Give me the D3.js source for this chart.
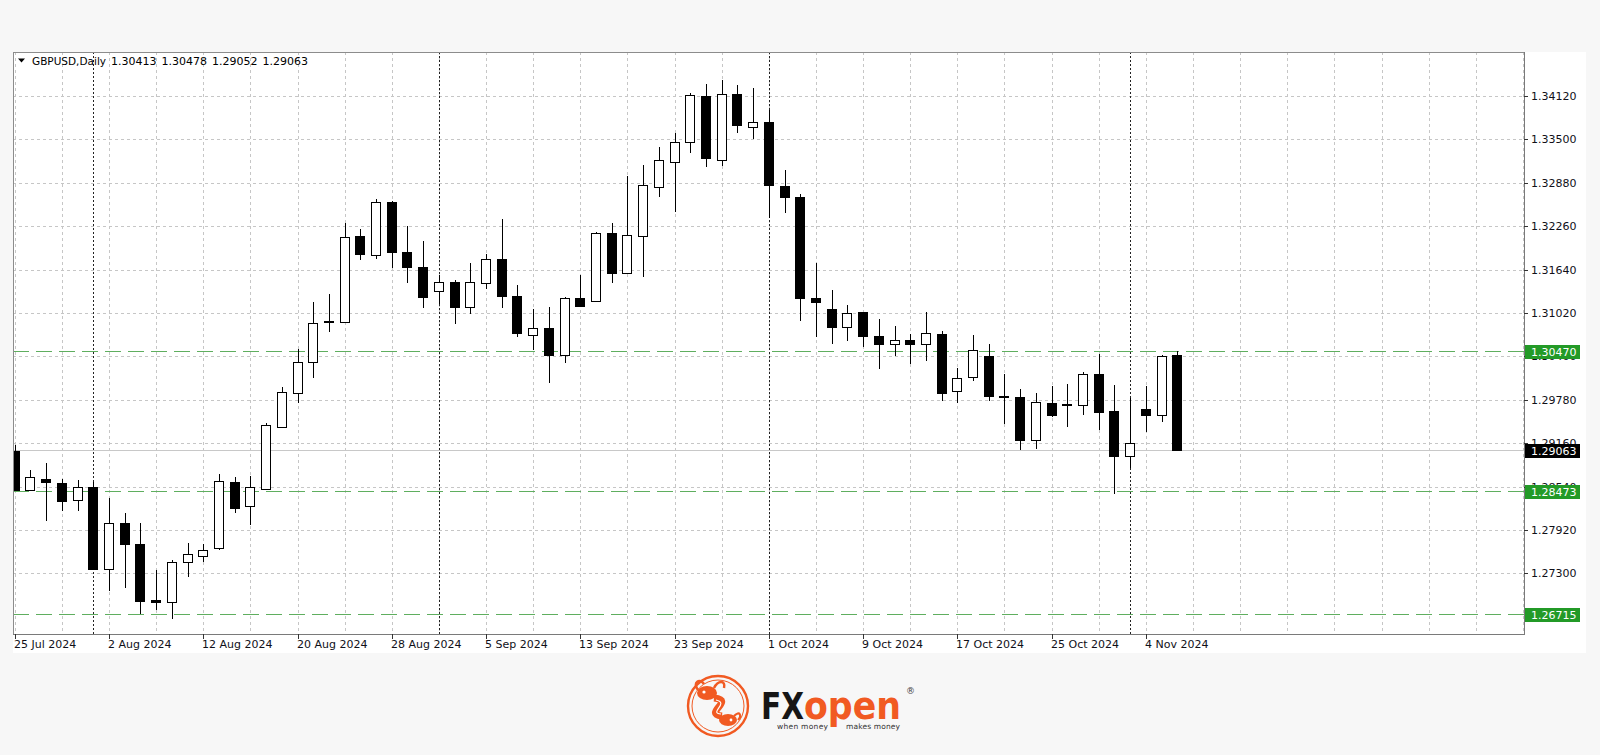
<!DOCTYPE html>
<html><head><meta charset="utf-8">
<script src="https://cdn.jsdelivr.net/npm/d3@7"></script>
<style>html,body{margin:0;padding:0;background:#f7f7f7;} svg{display:block;}</style>
</head><body>
<svg id="chart" width="1600" height="755"></svg>
<script>
// ---------------- DATA ----------------
const dates = ["2024-07-25","2024-07-26","2024-07-29","2024-07-30","2024-07-31","2024-08-01","2024-08-02","2024-08-05","2024-08-06","2024-08-07",
"2024-08-08","2024-08-09","2024-08-12","2024-08-13","2024-08-14","2024-08-15","2024-08-16","2024-08-19","2024-08-20","2024-08-21",
"2024-08-22","2024-08-23","2024-08-26","2024-08-27","2024-08-28","2024-08-29","2024-08-30","2024-09-02","2024-09-03","2024-09-04",
"2024-09-05","2024-09-06","2024-09-09","2024-09-10","2024-09-11","2024-09-12","2024-09-13","2024-09-16","2024-09-17","2024-09-18",
"2024-09-19","2024-09-20","2024-09-23","2024-09-24","2024-09-25","2024-09-26","2024-09-27","2024-09-30","2024-10-01","2024-10-02",
"2024-10-03","2024-10-04","2024-10-07","2024-10-08","2024-10-09","2024-10-10","2024-10-11","2024-10-14","2024-10-15","2024-10-16",
"2024-10-17","2024-10-18","2024-10-21","2024-10-22","2024-10-23","2024-10-24","2024-10-25","2024-10-28","2024-10-29","2024-10-30",
"2024-10-31","2024-11-01","2024-11-04","2024-11-05","2024-11-06"];

const openP = [1.29053,1.28491,1.28644,1.28596,1.28349,1.28530,1.27367,1.28016,1.27720,1.26913,
1.26891,1.27467,1.27549,1.27663,1.28610,1.28267,1.28506,1.29396,1.29873,1.30324,
1.30906,1.30896,1.32120,1.31849,1.32610,1.31896,1.31673,1.31334,1.31459,1.31110,
1.31444,1.31787,1.31267,1.30710,1.30801,1.30420,1.31230,1.31196,1.32159,1.31587,
1.32120,1.32824,1.33173,1.33459,1.34120,1.33206,1.34144,1.33681,1.33744,1.32834,
1.32681,1.31239,1.31073,1.30824,1.31030,1.30691,1.30573,1.30634,1.30581,1.30716,
1.29910,1.30101,1.30406,1.29830,1.29824,1.29206,1.29739,1.29713,1.29706,1.30144,
1.29620,1.28980,1.29649,1.29563,1.30413];

const highP = [1.29134,1.28777,1.28881,1.28644,1.28634,1.28601,1.28381,1.28159,1.28016,1.27349,
1.27491,1.27730,1.27720,1.28720,1.28681,1.28696,1.29444,1.29967,1.30501,1.31181,
1.31287,1.32301,1.32220,1.32649,1.32620,1.32263,1.32049,1.31563,1.31491,1.31739,
1.31859,1.32363,1.31420,1.31073,1.31110,1.31253,1.31563,1.32173,1.32301,1.32977,
1.33134,1.33396,1.33587,1.34159,1.34291,1.34349,1.34277,1.34239,1.33920,1.33063,
1.32720,1.31739,1.31349,1.31134,1.31031,1.30930,1.30834,1.30720,1.31030,1.30763,
1.30230,1.30706,1.30577,1.30144,1.29934,1.29881,1.29977,1.29999,1.30173,1.30430,
1.29991,1.29801,1.29977,1.30420,1.30478];

const lowP = [1.28477,1.28480,1.28053,1.28191,1.28191,1.27349,1.27053,1.27087,1.26720,1.26777,
1.26649,1.27253,1.27463,1.27634,1.28167,1.27991,1.28491,1.29387,1.29730,1.30087,
1.30744,1.30887,1.31777,1.31791,1.31667,1.31444,1.31087,1.31149,1.30859,1.31001,
1.31359,1.31087,1.30673,1.30491,1.30016,1.30310,1.31120,1.31191,1.31453,1.31577,
1.31530,1.32673,1.32459,1.33301,1.33110,1.33124,1.33596,1.33500,1.32373,1.32453,
1.30910,1.30681,1.30577,1.30624,1.30539,1.30220,1.30406,1.30291,1.30339,1.29760,
1.29739,1.30053,1.29760,1.29430,1.29063,1.29077,1.29539,1.29396,1.29563,1.29349,
1.28434,1.28801,1.29324,1.29467,1.29052];

const closeP = [1.28491,1.28673,1.28606,1.28339,1.28539,1.27359,1.28016,1.27720,1.26901,1.26884,
1.27467,1.27573,1.27634,1.28624,1.28239,1.28530,1.29420,1.29887,1.30316,1.30873,
1.30887,1.32101,1.31859,1.32610,1.31896,1.31681,1.31253,1.31459,1.31110,1.31459,
1.31787,1.31263,1.30730,1.30801,1.30420,1.31230,1.31124,1.32159,1.31596,1.32134,
1.32844,1.33206,1.33459,1.34134,1.33230,1.34144,1.33706,1.33744,1.32849,1.32673,
1.31230,1.31177,1.30824,1.31016,1.30691,1.30577,1.30634,1.30581,1.30730,1.29881,
1.30087,1.30487,1.29830,1.29816,1.29206,1.29753,1.29559,1.29699,1.30144,1.29606,
1.28980,1.29159,1.29563,1.30406,1.29063];

const priceTicks = [1.34120,1.33500,1.32880,1.32260,1.31640,1.31020,1.30400,1.29780,1.29160,1.28540,1.27920,1.27300];
const levelLines = [1.30470,1.28473,1.26715];
const lastPrice = 1.29063;
const dateLabelIdx = [0,6,12,18,24,30,36,42,48,54,60,66,72];
const symbolTitle = "GBPUSD,Daily";

// ---------------- LAYOUT ----------------
const svg = d3.select("#chart");
const plot = {left:13, top:52, right:1524, bottom:634};
const panel = {left:13, top:52, right:1586, bottom:653};
const font = "'DejaVu Sans', Verdana, sans-serif";

const x = d3.scaleLinear().domain([0,74]).range([14.75, 14.75 + 74*15.71]);
const y = d3.scaleLinear().domain([1.27300,1.34120]).range([573.3,96]);
const parse = d3.timeParse("%Y-%m-%d");
const fmtDate = d3.timeFormat("%-d %b %Y");
const fmtP = d => d.toFixed(5);
const snap = v => Math.round(v) + 0.5;

// white panel
svg.append("rect").attr("x",panel.left).attr("y",panel.top)
  .attr("width",panel.right-panel.left).attr("height",panel.bottom-panel.top).attr("fill","#ffffff");

svg.append("clipPath").attr("id","pc").append("rect")
  .attr("x",plot.left+1).attr("y",plot.top+1)
  .attr("width",plot.right-plot.left-1).attr("height",plot.bottom-plot.top-1);
const g = svg.append("g").attr("clip-path","url(#pc)");

// horizontal grid
g.selectAll("line.hg").data(priceTicks).join("line")
  .attr("x1",plot.left).attr("x2",plot.right)
  .attr("y1",d=>snap(y(d))).attr("y2",d=>snap(y(d)))
  .attr("stroke","#c6c6c6").attr("stroke-dasharray","3,3");

// vertical grid every 3 bars
const maxIdx = Math.floor(x.invert(plot.right));
g.selectAll("line.vg").data(d3.range(0, maxIdx+1, 3)).join("line")
  .attr("x1",d=>snap(x(d))).attr("x2",d=>snap(x(d)))
  .attr("y1",plot.top).attr("y2",plot.bottom)
  .attr("stroke","#c6c6c6").attr("stroke-dasharray","3,3");

// month separators
const sepIdx = dates.map((d,i)=>i).filter(i=> i>0 && dates[i].slice(5,7)!==dates[i-1].slice(5,7));
g.selectAll("line.sep").data(sepIdx).join("line")
  .attr("x1",d=>snap(x(d))).attr("x2",d=>snap(x(d)))
  .attr("y1",plot.top).attr("y2",plot.bottom)
  .attr("stroke","#222").attr("stroke-dasharray","2,2");

// bid line
g.append("line").attr("x1",plot.left).attr("x2",plot.right)
  .attr("y1",snap(y(lastPrice))).attr("y2",snap(y(lastPrice)))
  .attr("stroke","#c8c8c8").attr("stroke-width",1.2);

// level lines
g.selectAll("line.lvl").data(levelLines).join("line")
  .attr("x1",plot.left).attr("x2",plot.right)
  .attr("y1",d=>snap(y(d))).attr("y2",d=>snap(y(d)))
  .attr("stroke","#5fae5f").attr("stroke-dasharray","16,7");

// candles
const idx = d3.range(dates.length);
const cg = g.append("g");
cg.selectAll("line.wick").data(idx).join("line")
  .attr("x1",i=>Math.round(x(i))+0.5).attr("x2",i=>Math.round(x(i))+0.5)
  .attr("y1",i=>Math.round(y(highP[i]))).attr("y2",i=>Math.round(y(lowP[i])))
  .attr("stroke","#000").attr("stroke-width",1);
cg.selectAll("rect.body").data(idx).join("rect")
  .attr("x",i=>Math.round(x(i))-4.5)
  .attr("y",i=>Math.round(y(Math.max(openP[i],closeP[i])))+0.5)
  .attr("width",9)
  .attr("height",i=>Math.max(1, Math.round(y(Math.min(openP[i],closeP[i]))) - Math.round(y(Math.max(openP[i],closeP[i])))))
  .attr("fill",i=> closeP[i] > openP[i] ? "#ffffff" : "#000000")
  .attr("stroke","#000").attr("stroke-width",1);

// plot border / axes lines
svg.append("line").attr("x1",plot.left+0.5).attr("x2",plot.left+0.5).attr("y1",plot.top).attr("y2",plot.bottom).attr("stroke","#8c8c8c");
svg.append("line").attr("x1",plot.left).attr("x2",plot.right).attr("y1",plot.top+0.5).attr("y2",plot.top+0.5).attr("stroke","#8c8c8c");
svg.append("line").attr("x1",plot.right+0.5).attr("x2",plot.right+0.5).attr("y1",plot.top).attr("y2",plot.bottom+1).attr("stroke","#7a7a7a");
svg.append("line").attr("x1",plot.left).attr("x2",plot.right+1).attr("y1",plot.bottom+0.5).attr("y2",plot.bottom+0.5).attr("stroke","#7a7a7a");

// price axis
const ya = svg.append("g");
ya.selectAll("line.yt").data(priceTicks).join("line")
  .attr("x1",plot.right).attr("x2",plot.right+4)
  .attr("y1",d=>snap(y(d))).attr("y2",d=>snap(y(d))).attr("stroke","#333");
ya.selectAll("text.yl").data(priceTicks).join("text")
  .attr("x",1531).attr("y",d=>y(d)+4)
  .attr("font-family",font).attr("font-size",11).attr("fill","#101018")
  .text(fmtP);

// level labels (drawn on top of the tick labels, as in the terminal)
const lv = svg.append("g");
lv.selectAll("rect").data(levelLines).join("rect")
  .attr("x",1525).attr("y",d=>Math.round(y(d))-6).attr("width",55).attr("height",14)
  .attr("fill","#239a27");
lv.selectAll("text").data(levelLines).join("text")
  .attr("x",1531).attr("y",d=>Math.round(y(d))+5)
  .attr("font-family",font).attr("font-size",11).attr("fill","#ffffff").text(fmtP);
svg.append("rect").attr("x",1525).attr("y",Math.round(y(lastPrice))-6).attr("width",55).attr("height",14).attr("fill","#000");
svg.append("text").attr("x",1531).attr("y",Math.round(y(lastPrice))+5)
  .attr("font-family",font).attr("font-size",11).attr("fill","#ffffff").text(fmtP(lastPrice));

// date axis
const xa = svg.append("g");
xa.selectAll("line.xt").data(dateLabelIdx).join("line")
  .attr("x1",i=>snap(x(i))).attr("x2",i=>snap(x(i)))
  .attr("y1",plot.bottom).attr("y2",plot.bottom+5).attr("stroke","#333");
xa.selectAll("text.xl").data(dateLabelIdx).join("text")
  .attr("x",i=>Math.round(x(i))-1).attr("y",648)
  .attr("font-family",font).attr("font-size",11).attr("fill","#101018")
  .text(i=>fmtDate(parse(dates[i])));

// header
const last = dates.length-1;
svg.append("path").attr("d","M18,58.5 L25,58.5 L21.5,62.5 Z").attr("fill","#000");
svg.append("text").attr("x",32).attr("y",65).attr("font-family",font).attr("font-size",10.5).attr("fill","#000")
  .text(symbolTitle);
svg.append("text").attr("x",111).attr("y",65).attr("font-family",font).attr("font-size",11).attr("fill","#000")
  .attr("word-spacing",1.5)
  .text([openP[last],highP[last],lowP[last],closeP[last]].map(fmtP).join(" "));

// ---------------- LOGO ----------------
const orange = "#f15a22";
const lg = svg.append("g");
const cx = 718, cy = 706;
lg.append("circle").attr("cx",cx).attr("cy",cy).attr("r",30).attr("fill","none").attr("stroke",orange).attr("stroke-width",2.4);
lg.append("circle").attr("cx",cx).attr("cy",cy).attr("r",26).attr("fill","none").attr("stroke",orange).attr("stroke-width",1);
// upper bull head
lg.append("ellipse").attr("cx",cx-11).attr("cy",cy-13).attr("rx",10).attr("ry",7).attr("fill",orange);
lg.append("path").attr("d",`M${cx-20},${cy-16} C${cx-26},${cy-24} ${cx-18},${cy-28} ${cx-14},${cy-22}`).attr("fill","none").attr("stroke",orange).attr("stroke-width",2.5);
lg.append("path").attr("d",`M${cx-4},${cy-18} C${cx},${cy-26} ${cx+8},${cy-26} ${cx+6},${cy-18}`).attr("fill","none").attr("stroke",orange).attr("stroke-width",2.5);
lg.append("circle").attr("cx",cx-14).attr("cy",cy-14).attr("r",1.6).attr("fill","#fff");
// swirl body
lg.append("path").attr("d",`M${cx-4},${cy-8} C${cx+18},${cy-6} ${cx-16},${cy+8} ${cx+4},${cy+10}`).attr("fill","none").attr("stroke",orange).attr("stroke-width",7);
lg.append("path").attr("d",`M${cx-2},${cy-6} C${cx+12},${cy-3} ${cx-10},${cy+7} ${cx+3},${cy+8}`).attr("fill","none").attr("stroke","#fff").attr("stroke-width",1.2);
// lower bull head
lg.append("ellipse").attr("cx",cx+10).attr("cy",cy+14).attr("rx",9).attr("ry",6).attr("fill",orange);
lg.append("path").attr("d",`M${cx+16},${cy+10} C${cx+22},${cy+4} ${cx+24},${cy+10} ${cx+20},${cy+14}`).attr("fill","none").attr("stroke",orange).attr("stroke-width",2.2);
lg.append("circle").attr("cx",cx+13).attr("cy",cy+14).attr("r",1.4).attr("fill","#fff");

lg.append("text").attr("x",761).attr("y",719).attr("font-family",font).attr("font-weight","bold")
  .attr("font-size",38).attr("fill","#161616").attr("textLength",43).attr("lengthAdjust","spacingAndGlyphs").text("FX");
lg.append("text").attr("x",804).attr("y",719).attr("font-family",font).attr("font-weight","bold")
  .attr("font-size",39).attr("fill",orange).attr("textLength",97).attr("lengthAdjust","spacingAndGlyphs").text("open");
lg.append("text").attr("x",777).attr("y",729).attr("font-family",font).attr("font-size",7.5)
  .attr("fill","#333").attr("textLength",51).attr("lengthAdjust","spacing").text("when money");
lg.append("text").attr("x",846).attr("y",729).attr("font-family",font).attr("font-size",7.5)
  .attr("fill","#333").attr("textLength",54).attr("lengthAdjust","spacing").text("makes money");
lg.append("text").attr("x",906).attr("y",694).attr("font-family",font).attr("font-size",9)
  .attr("fill","#444").text("®");
</script>
</body></html>
